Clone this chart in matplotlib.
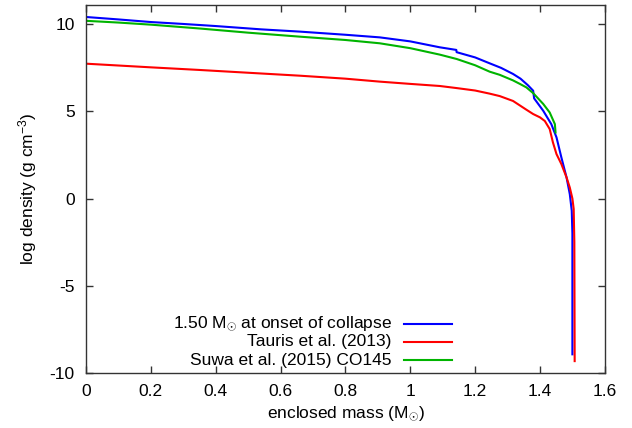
import matplotlib
matplotlib.use('Agg')
import matplotlib.pyplot as plt

plt.rcParams['font.family'] = ['Liberation Sans', 'DejaVu Sans']
plt.rcParams['mathtext.fontset'] = 'custom'
plt.rcParams['mathtext.rm'] = 'Liberation Sans'
plt.rcParams['mathtext.it'] = 'Liberation Sans'

# 1.50 Msun model at onset of collapse
blue_x = [0, 0.1, 0.2, 0.3, 0.4, 0.54, 0.66, 0.8, 0.906, 1.0, 1.091, 1.142, 1.143,
          1.2, 1.245, 1.28, 1.317, 1.34, 1.363, 1.379, 1.382, 1.41, 1.435, 1.451,
          1.466, 1.482, 1.492, 1.498, 1.5, 1.5]
blue_y = [10.42, 10.28, 10.13, 10.02, 9.90, 9.71, 9.58, 9.40, 9.25, 9.02, 8.68, 8.53, 8.40,
          8.1, 7.76, 7.5, 7.15, 6.88, 6.5, 6.19, 5.75, 5.04, 4.27, 3.51,
          2.36, 1.21, 0.25, -0.7, -2.0, -8.94]

# Tauris et al. (2013)
red_x = [0, 0.2, 0.35, 0.5, 0.66, 0.8, 0.906, 1.0, 1.091, 1.143, 1.2, 1.245, 1.276,
         1.317, 1.358, 1.379, 1.40, 1.415, 1.43, 1.44, 1.451, 1.466, 1.482, 1.492,
         1.5, 1.504, 1.506, 1.507]
red_y = [7.74, 7.53, 7.38, 7.22, 7.05, 6.88, 6.71, 6.58, 6.46, 6.34, 6.2, 6.02, 5.88,
         5.6, 5.1, 4.85, 4.66, 4.45, 3.99, 3.22, 2.55, 1.98, 1.21, 0.63,
         0.0, -0.6, -2.5, -9.33]

# Suwa et al. (2015) CO145
green_x = [0, 0.1, 0.2, 0.35, 0.5, 0.66, 0.8, 0.906, 1.0, 1.091, 1.143, 1.2, 1.245,
           1.276, 1.317, 1.338, 1.358, 1.379, 1.41, 1.43, 1.446, 1.448]
green_y = [10.2, 10.1, 9.98, 9.76, 9.52, 9.29, 9.10, 8.91, 8.63, 8.26, 8.01, 7.65, 7.28,
           7.1, 6.78, 6.58, 6.38, 6.05, 5.43, 4.94, 4.27, 3.79]

labels = [r'1.50 M$_{\odot}$ at onset of collapse', 'Tauris et al. (2013)',
          'Suwa et al. (2015) CO145']
colors = ['#0000ff', '#ff0000', '#00b400']

xticks = [0, 0.2, 0.4, 0.6, 0.8, 1, 1.2, 1.4, 1.6]
xticklabels = ['0', '0.2', '0.4', '0.6', '0.8', '1', '1.2', '1.4', '1.6']
yticks = [-10, -5, 0, 5, 10]

fs = 12.5

fig = plt.figure(figsize=(6.32, 4.28), dpi=100)
ax = fig.add_axes([0.136, 0.129, 0.821, 0.859])

series = [(blue_x, blue_y), (red_x, red_y), (green_x, green_y)]
for (xs, ys), c in zip(series, colors):
    ax.plot(xs, ys, color=c, lw=1.5)

ax.set_xlim(0, 1.6)
ax.set_ylim(-10, 11.1)
ax.set_xticks(xticks)
ax.set_xticklabels(xticklabels)
ax.set_yticks(yticks)
ax.set_yticklabels([str(v) for v in yticks])
ax.tick_params(direction='in', top=True, right=True, length=5, width=1,
               labelsize=fs, pad=8, color='#333333')
for s in ax.spines.values():
    s.set_color('#333333')
    s.set_linewidth(1)

ax.set_xlabel(r'enclosed mass (M$_{\odot}$)', fontsize=fs, labelpad=4)
ax.set_ylabel(r'log density (g cm$^{-3}$)', fontsize=fs, labelpad=8)

# gnuplot-style key: text right-aligned, sample line on the right
for i, (lab, c) in enumerate(zip(labels, colors)):
    yk = 0.134 - 0.05 * i
    ax.text(0.589, yk, lab, transform=ax.transAxes, ha='right', va='center',
            fontsize=fs)
    ax.plot([0.613, 0.705], [yk, yk], transform=ax.transAxes, color=c, lw=1.5)

fig.savefig('out.png', dpi=100)
